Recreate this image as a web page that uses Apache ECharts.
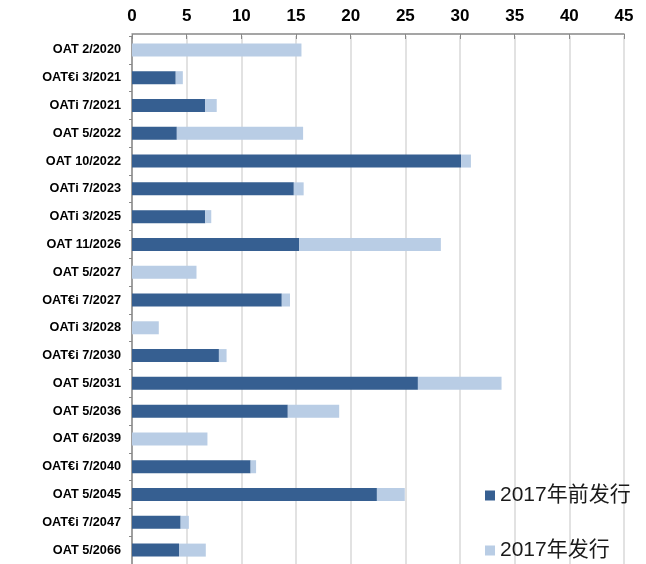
<!DOCTYPE html>
<html>
<head>
<meta charset="utf-8">
<script src="https://cdn.jsdelivr.net/npm/echarts@6/dist/echarts.min.js"></script>
<style>html,body{margin:0;padding:0;background:#fff;}#c{width:646px;height:564px;}</style>
</head>
<body>
<div id="c"></div>
<script>
const categories = ["OAT 2/2020","OAT€i 3/2021","OATi 7/2021","OAT 5/2022","OAT 10/2022","OATi 7/2023","OATi 3/2025","OAT 11/2026","OAT 5/2027","OAT€i 7/2027","OATi 3/2028","OAT€i 7/2030","OAT 5/2031","OAT 5/2036","OAT 6/2039","OAT€i 7/2040","OAT 5/2045","OAT€i 7/2047","OAT 5/2066"];
const before2017 = [0, 4.0, 6.7, 4.1, 30.1, 14.8, 6.7, 15.3, 0, 13.7, 0, 7.95, 26.15, 14.25, 0, 10.85, 22.4, 4.45, 4.3];
const issued2017 = [15.5, 0.65, 1.05, 11.55, 0.9, 0.9, 0.55, 12.95, 5.9, 0.75, 2.45, 0.7, 7.65, 4.7, 6.9, 0.5, 2.55, 0.75, 2.45];
const xTicks = {min: 0, max: 45, interval: 5};
const seriesNames = ["2017年前发行", "2017年发行"];

const legendText = {fontSize: 21, color: '#1a1a1a', fontFamily: 'Liberation Sans, Noto Sans CJK SC'};
const chart = echarts.init(document.getElementById('c'));
chart.setOption({
  animation: false,
  grid: {left: 132, right: 22, top: 36, bottom: 0, containLabel: false},
  legend: [
    {left: 480, top: 480, itemWidth: 10, itemHeight: 10, icon: 'rect', itemGap: 0,
     textStyle: legendText, data: [seriesNames[0]]},
    {left: 480, top: 535, itemWidth: 10, itemHeight: 10, icon: 'rect', itemGap: 0,
     textStyle: legendText, data: [seriesNames[1]]}
  ],
  xAxis: {
    type: 'value', position: 'top', offset: 2,
    min: xTicks.min, max: xTicks.max, interval: xTicks.interval,
    axisLine: {show: true, lineStyle: {color: '#888', width: 1.5}},
    axisTick: {show: true, inside: true, length: 5, lineStyle: {color: '#888'}},
    axisLabel: {fontSize: 17, fontWeight: 'bold', color: '#000', margin: 9, fontFamily: 'Liberation Sans'},
    splitLine: {show: true, lineStyle: {color: '#d9d9d9', width: 1.5}}
  },
  yAxis: {
    type: 'category', inverse: true, data: categories,
    axisLine: {show: true, lineStyle: {color: '#888', width: 1.5}},
    axisTick: {show: true, length: 3, lineStyle: {color: '#888'}},
    axisLabel: {fontSize: 12.7, fontWeight: 'bold', color: '#000', margin: 11, fontFamily: 'Liberation Sans'}
  },
  series: [
    {name: seriesNames[0], type: 'bar', stack: 't', data: before2017, barWidth: 13,
     itemStyle: {color: '#365f91'}},
    {name: seriesNames[1], type: 'bar', stack: 't', data: issued2017, barWidth: 13,
     itemStyle: {color: '#b9cde5'}}
  ]
});
</script>
</body>
</html>
